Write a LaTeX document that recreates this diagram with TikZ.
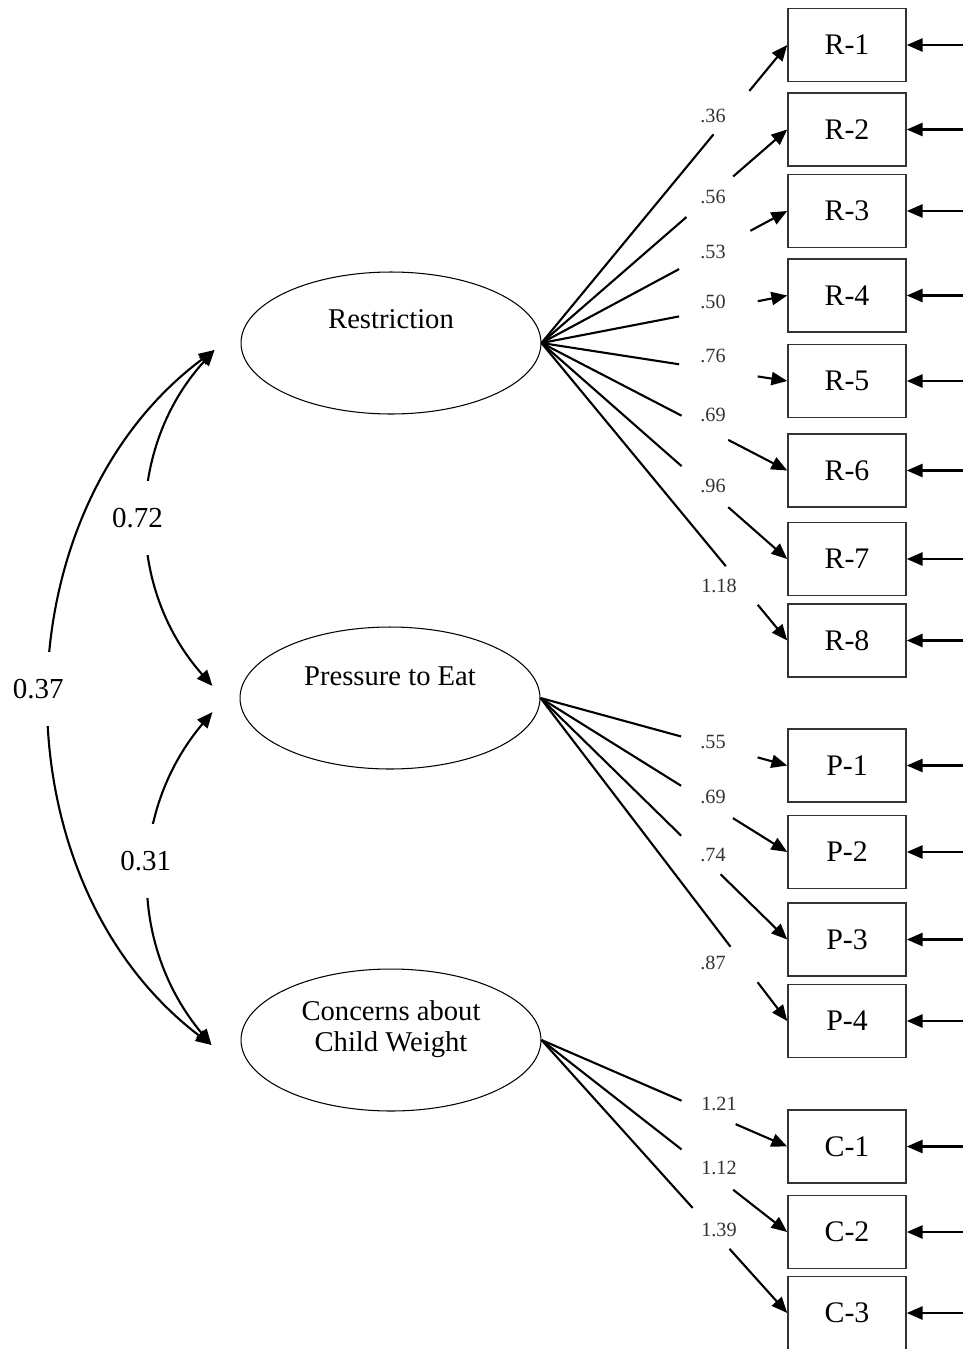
\documentclass[tikz,border=0pt]{standalone}
\usepackage{fontspec}
\setmainfont{Liberation Serif}
\usetikzlibrary{shapes.geometric,arrows.meta,calc}

\tikzset{
  latent/.style={ellipse, draw, line width=0.6pt, minimum width=6cm, minimum height=2.84cm, inner sep=0pt},
  lattext/.style={font=\fontsize{16.3}{17.6}\selectfont, align=center, inner sep=0pt},
  item/.style={rectangle, draw=black!80, line width=0.9pt, minimum width=2.36cm, minimum height=1.46cm, inner sep=0pt, font=\fontsize{17}{19}\selectfont},
  load/.style={line width=1.2pt},
  arr/.style={-{Triangle[length=9pt,width=7.5pt]}},
  loadlbl/.style={font=\fontsize{11.5}{13}\selectfont, text=black!80, inner sep=0pt},
  cov/.style={line width=1.2pt, {Triangle[length=9pt,width=7.5pt]}-{Triangle[length=9pt,width=7.5pt]}},
  covlbl/.style={fill=white, font=\fontsize{16.5}{18}\selectfont, minimum height=1.48cm, minimum width=0.9cm, inner sep=1pt},
}

\begin{document}
\begin{tikzpicture}[x=0.02cm, y=-0.02cm]
    \path[use as bounding box, fill=white] (0,0) rectangle (963,1349);

    % Latent factors
    \node[latent] (res) at (391,343) {};
    \node[lattext] (res-t) at ($(res)+(0,-24)$) {Restriction};
    \node[latent] (pre) at (390,698) {};
    \node[lattext] (pre-t) at ($(pre)+(0,-22)$) {Pressure to Eat};
    \node[latent] (con) at (391,1040) {};
    \node[lattext] (con-t) at ($(con)+(0,-11)$) {Concerns about\\Child Weight};

    % Items with error arrows
    \foreach \nm/\txt/\yc in {r1/R-1/45, r2/R-2/129.5, r3/R-3/211, r4/R-4/295.5,
                             r5/R-5/381, r6/R-6/470.5, r7/R-7/559, r8/R-8/640.5,
                             p1/P-1/765.5, p2/P-2/852, p3/P-3/939.5, p4/P-4/1021,
                             c1/C-1/1146.5, c2/C-2/1232, c3/C-3/1313} {
        \node[item] (\nm) at (847,\yc) {\txt};
        \coordinate (\nm-e) at ($(\nm.east)+(60,0)$);
        \draw[load,arr] (\nm-e) -- (\nm.east); % error term
    }

    % Loadings: Restriction
    \foreach \nm/\ta/\tb/\val/\lx/\ly in {r1/0.70/0.846/.36/713/116, r2/0.59/0.78/.56/713/197,
                                          r3/0.56/0.85/.53/713/252, r4/0.56/0.88/.50/713/302,
                                          r5/0.56/0.88/.76/713/356, r6/0.57/0.76/.69/713/415,
                                          r7/0.57/0.76/.96/713/486, r8/0.75/0.88/1.18/719/586} {
        \draw[load] (res.east) -- ($(res.east)!\ta!(\nm.west)$);
        \draw[load,arr] ($(res.east)!\tb!(\nm.west)$) -- (\nm.west);
        \node[loadlbl] (l-\nm) at (\lx,\ly) {\val};
    }

    % Loadings: Pressure to Eat
    \foreach \nm/\ta/\tb/\val/\lx/\ly in {p1/0.57/0.88/.55/713/742, p2/0.57/0.78/.69/713/797,
                                          p3/0.57/0.73/.74/713/855, p4/0.77/0.88/.87/713/963} {
        \draw[load] (pre.east) -- ($(pre.east)!\ta!(\nm.west)$);
        \draw[load,arr] ($(pre.east)!\tb!(\nm.west)$) -- (\nm.west);
        \node[loadlbl] (l-\nm) at (\lx,\ly) {\val};
    }

    % Loadings: Concerns about Child Weight
    \foreach \nm/\ta/\tb/\val/\lx/\ly in {c1/0.57/0.79/1.21/719/1104, c2/0.57/0.78/1.12/719/1168,
                                          c3/0.615/0.765/1.39/719/1230} {
        \draw[load] (con.east) -- ($(con.east)!\ta!(\nm.west)$);
        \draw[load,arr] ($(con.east)!\tb!(\nm.west)$) -- (\nm.west);
        \node[loadlbl] (l-\nm) at (\lx,\ly) {\val};
    }

    % Covariances
    \coordinate (res-in) at ($(res.west)+(-26,7)$);
    \coordinate (pre-in1) at ($(pre.west)+(-27,-12)$);
    \coordinate (pre-in2) at ($(pre.west)+(-27,14)$);
    \coordinate (con-in) at ($(con.west)+(-29,5)$);

    \draw[cov] (res-in) to[bend right=42] node[covlbl, xshift=-0.2cm] (c72) {0.72} (pre-in1);
    \draw[cov] (pre-in2) to[bend right=40] node[covlbl, pos=0.45, xshift=-0.08cm] (c31) {0.31} (con-in);
    \draw[cov] (res-in) to[bend right=53] node[covlbl, pos=0.49, xshift=-0.24cm] (c37) {0.37} (con-in);
\end{tikzpicture}
\end{document}
